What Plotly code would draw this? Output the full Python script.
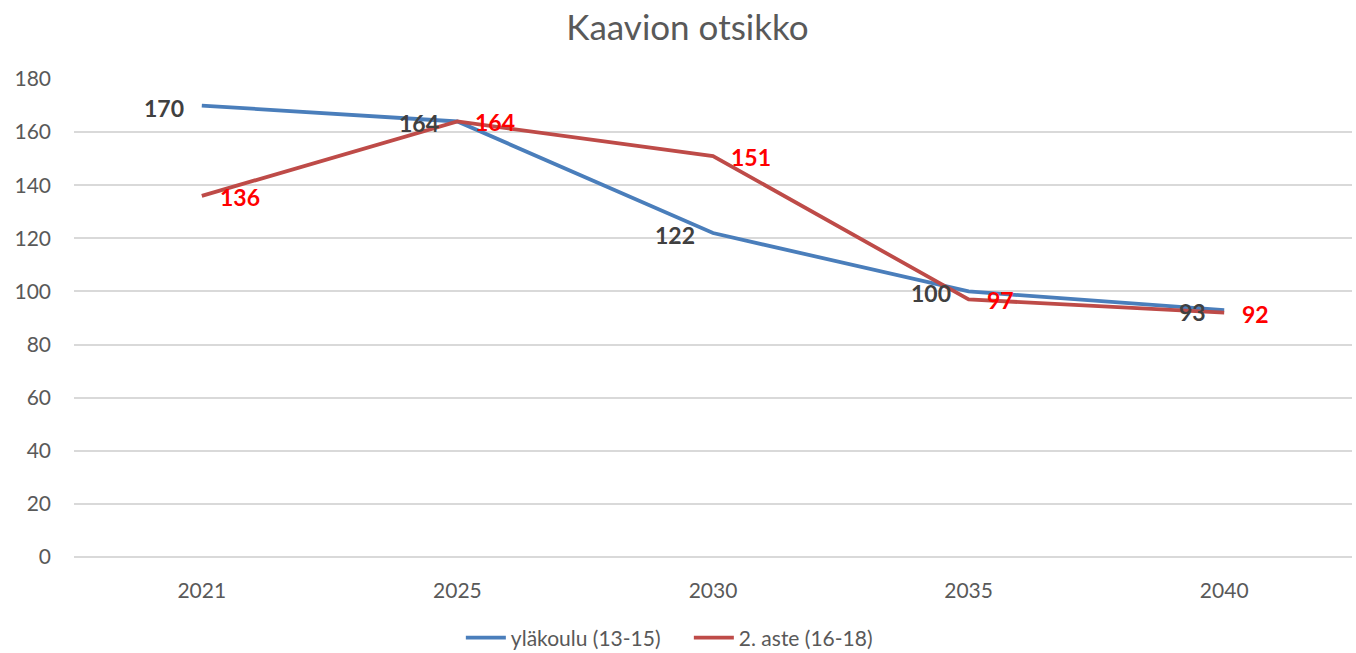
import plotly.graph_objects as go

categories = ["2021", "2025", "2030", "2035", "2040"]
ylakoulu = [170, 164, 122, 100, 93]
toinen_aste = [136, 164, 151, 97, 92]
series_names = ["yläkoulu (13-15)", "2. aste (16-18)"]
title_text = "Kaavion otsikko"

BLUE = "#4A7EBB"
RED = "#BE4B48"
FONT = "Lato, 'Open Sans', sans-serif"

fig = go.Figure()
fig.add_trace(go.Scatter(x=categories, y=ylakoulu, mode="lines", name=series_names[0],
                         line=dict(color=BLUE, width=3.8)))
fig.add_trace(go.Scatter(x=categories, y=toinen_aste, mode="lines", name=series_names[1],
                         line=dict(color=RED, width=3.8)))

annotations = []
for i, v in enumerate(ylakoulu):
    annotations.append(dict(x=i, y=v, xref="x", yref="y", text=f"<b>{v}</b>", showarrow=False,
                            xanchor="right", yanchor="middle", xshift=-16, yshift=-2,
                            font=dict(color="#404040", size=23, family=FONT)))
for i, v in enumerate(toinen_aste):
    annotations.append(dict(x=i, y=v, xref="x", yref="y", text=f"<b>{v}</b>", showarrow=False,
                            xanchor="left", yanchor="middle", xshift=16, yshift=-1,
                            font=dict(color="#FF0000", size=23, family=FONT)))

fig.update_layout(
    width=1356, height=653,
    paper_bgcolor="white", plot_bgcolor="white",
    margin=dict(l=74, r=4, t=79, b=96, autoexpand=False),
    title=dict(text=title_text, x=0.507, xanchor="center", y=0.957, yanchor="middle",
               font=dict(size=35, color="#595959", family=FONT)),
    font=dict(family=FONT, color="#595959", size=21),
    xaxis=dict(type="category", showgrid=False, showline=False, ticks="", automargin=False,
               range=[-0.5, 4.5], tickfont=dict(size=21, color="#595959"), ticklabelstandoff=19),
    yaxis=dict(range=[0, 180], dtick=20, showgrid=True, gridcolor="#D9D9D9", gridwidth=1.5,
               zeroline=True, zerolinecolor="#D9D9D9", zerolinewidth=1.5, showline=False,
               automargin=False,
               ticks="", tickfont=dict(size=21, color="#595959"), ticklabelstandoff=22),
    legend=dict(orientation="h", x=0.508, xanchor="center", xref="container",
                y=0.023, yanchor="middle", yref="container",
                font=dict(size=21, color="#595959"), itemwidth=40, entrywidth=173),
    annotations=annotations,
    showlegend=True,
)

fig.write_html("out.html", config={"displayModeBar": False},
               post_script="document.body.style.margin='0px';")
